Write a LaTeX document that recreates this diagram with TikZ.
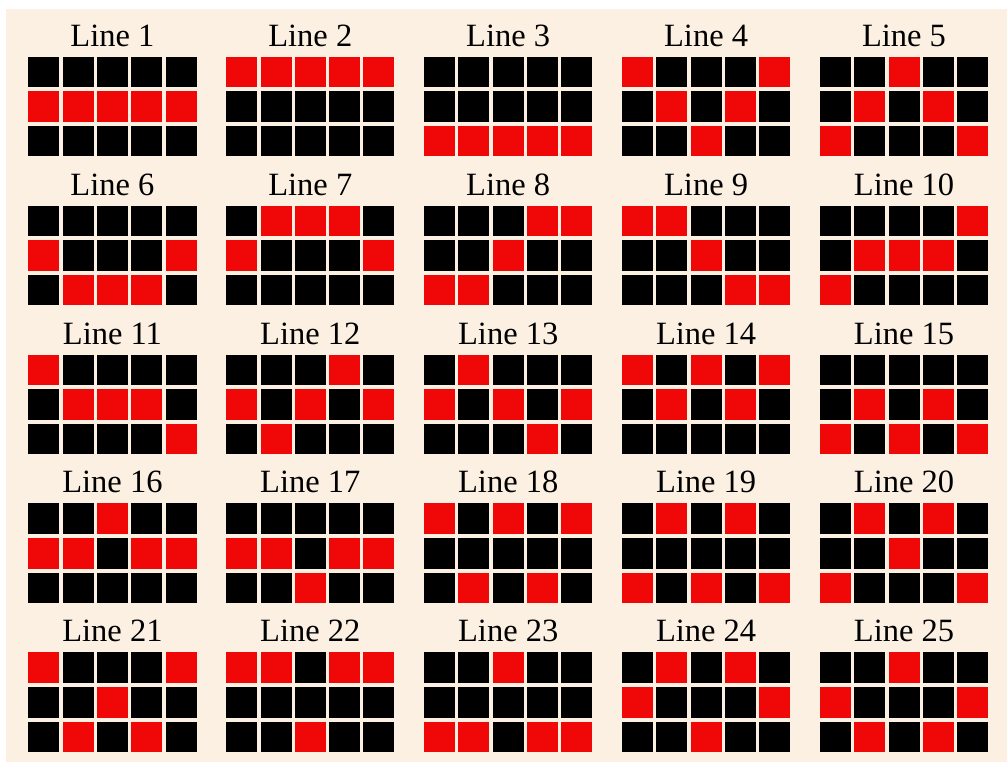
\documentclass[tikz,border=0pt]{standalone}
\usepackage{fontspec}
\setmainfont{Liberation Serif}
\definecolor{paper}{RGB}{251,240,226}
\definecolor{hitred}{RGB}{240,8,8}

\begin{document}
\begin{tikzpicture}[x=1pt, y=-1pt,
    cellbox/.style={fill=black},
    hitbox/.style={fill=hitred},
    linelabel/.style={anchor=base, inner sep=0pt, font=\fontsize{32.5}{38}\selectfont}]
    % Page and background
    \fill[white] (0,0) rectangle (1007,762);
    \fill[paper] (6,9) rectangle (1007,762);

    % Paylines: row hit (0 top, 1 middle, 2 bottom) for each of the 5 reels
    \foreach \pat [count=\n] in {{1,1,1,1,1},{0,0,0,0,0},{2,2,2,2,2},{0,1,2,1,0},{2,1,0,1,2},
                                 {1,2,2,2,1},{1,0,0,0,1},{2,2,1,0,0},{0,0,1,2,2},{2,1,1,1,0},
                                 {0,1,1,1,2},{1,2,1,0,1},{1,0,1,2,1},{0,1,0,1,0},{2,1,2,1,2},
                                 {1,1,0,1,1},{1,1,2,1,1},{0,2,0,2,0},{2,0,2,0,2},{2,0,1,0,2},
                                 {0,2,1,2,0},{0,0,2,0,0},{2,2,0,2,2},{1,0,2,0,1},{1,2,0,2,1}} {
        \pgfmathtruncatemacro\col{mod(\n-1,5)}
        \pgfmathtruncatemacro\row{div(\n-1,5)}
        \pgfmathsetmacro\gx{28.3+197.9*\col}
        \pgfmathsetmacro\gy{56.7+148.9*\row}

        % Title
        \node[linelabel] (line\n) at ({\gx+84.1},{\gy-10.5}) {Line \n};

        % Grid of 5 x 3 cells
        \foreach \c in {0,...,4}
            \foreach \r in {0,1,2}
                \fill[cellbox] ({\gx+34.3*\c},{\gy+34.6*\r}) rectangle +(31,30.6);

        % Winning cells
        \foreach \h [count=\c from 0] in \pat
            \fill[hitbox] ({\gx+34.3*\c},{\gy+34.6*\h}) rectangle +(31,30.6);
    }
\end{tikzpicture}
\end{document}
